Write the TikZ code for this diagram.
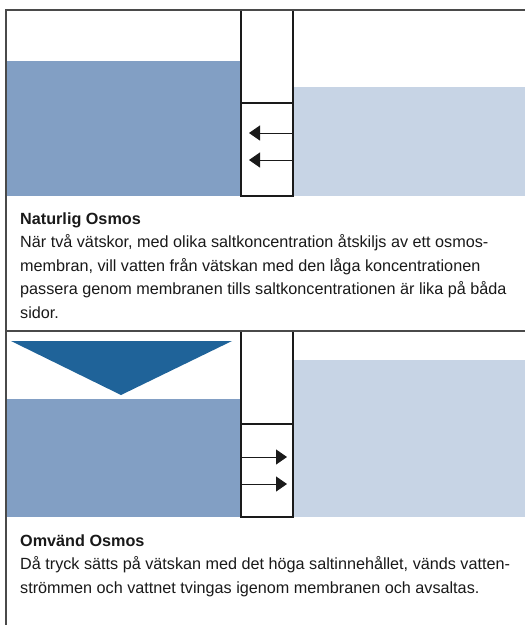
\documentclass[tikz,border=0pt]{standalone}
\usepackage{fontspec}
\setmainfont{Liberation Sans}
\usetikzlibrary{arrows.meta}
\definecolor{frameC}{HTML}{4A4A4A}
\definecolor{saltC}{HTML}{829FC4}
\definecolor{freshC}{HTML}{C7D4E5}
\definecolor{pressC}{HTML}{1F6399}
\definecolor{lineC}{HTML}{1A1A1A}
\tikzset{
  frameline/.style={draw=frameC, line width=1.2pt},
  membox/.style={draw=lineC, line width=1.1pt},
  flowarrow/.style={draw=lineC, line width=1pt, -{Triangle[length=11pt,width=15pt]}},
  headtext/.style={anchor=base west, inner sep=0pt, font=\fontsize{16.2}{19}\selectfont\bfseries, text=black!90},
  bodytext/.style={anchor=base west, inner sep=0pt, font=\fontsize{16.2}{19}\selectfont, text=black!90}
}
\begin{document}
\begin{tikzpicture}[x=1pt,y=-1pt]
\useasboundingbox (0,0) rectangle (525,625);
% ---------- Section 1: natural osmosis ----------
\fill[saltC] (6,61) rectangle (241,196);
\fill[freshC] (293,87) rectangle (525,196);
\draw[membox] (241,10) rectangle (293,196);
\draw[membox] (241,103) -- (293,103);
\coordinate (a1s) at (293,133); \coordinate (a1e) at (249,133);
\coordinate (a2s) at (293,160); \coordinate (a2e) at (249,160);
\draw[flowarrow] (a1s) -- (a1e);
\draw[flowarrow] (a2s) -- (a2e);
\node[headtext] (h1) at (20,224) {Naturlig Osmos};
\node[bodytext] (t1a) at (20,247.5) {När två vätskor, med olika saltkoncentration åtskiljs av ett osmos-};
\node[bodytext] (t1b) at (20,271) {membran, vill vatten från vätskan med den låga koncentrationen};
\node[bodytext] (t1c) at (20,294.5) {passera genom membranen tills saltkoncentrationen är lika på båda};
\node[bodytext] (t1d) at (20,318) {sidor.};
% ---------- Section 2: reverse osmosis ----------
\fill[saltC] (6,399) rectangle (241,517);
\fill[freshC] (293,360) rectangle (525,517);
\fill[pressC] (11,341) -- (232,341) -- (121,395) -- cycle;
\draw[membox] (241,331) rectangle (293,517);
\draw[membox] (241,424) -- (293,424);
\coordinate (b1s) at (241,457); \coordinate (b1e) at (287,457);
\coordinate (b2s) at (241,484); \coordinate (b2e) at (287,484);
\draw[flowarrow] (b1s) -- (b1e);
\draw[flowarrow] (b2s) -- (b2e);
\node[headtext] (h2) at (20,546) {Omvänd Osmos};
\node[bodytext] (t2a) at (20,569.5) {Då tryck sätts på vätskan med det höga saltinnehållet, vänds vatten-};
\node[bodytext] (t2b) at (20,593) {strömmen och vattnet tvingas igenom membranen och avsaltas.};
% ---------- Frame ----------
\draw[frameline] (525,10) -- (6,10) -- (6,625);
\draw[frameline] (6,331) -- (525,331);
\end{tikzpicture}
\end{document}
